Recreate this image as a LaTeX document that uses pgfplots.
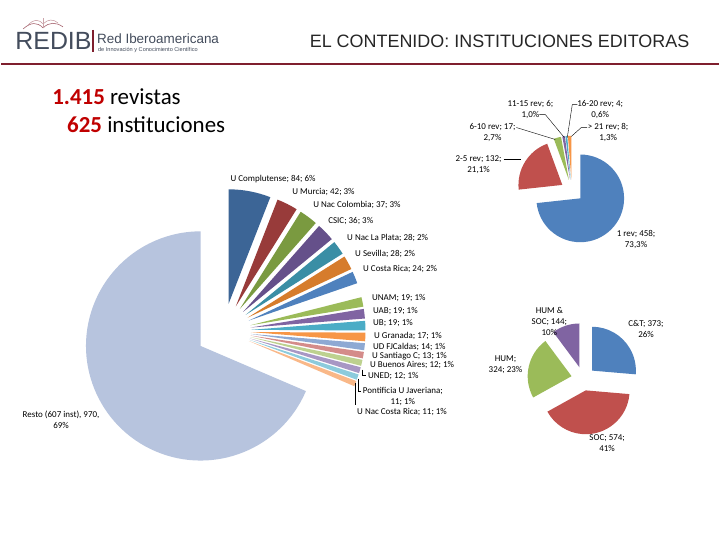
\documentclass[border=0pt]{standalone}
\usepackage{pgfplots}
\pgfplotsset{compat=1.18}
\usepackage{fontspec}
\setmainfont{Carlito}
\newfontfamily\arial{Liberation Sans}
\usetikzlibrary{calc}

\definecolor{aBlue}{HTML}{4F81BD}
\definecolor{aRed}{HTML}{C0504D}
\definecolor{aGreen}{HTML}{9BBB59}
\definecolor{aPurple}{HTML}{8064A2}
\definecolor{aAqua}{HTML}{4BACC6}
\definecolor{aOrange}{HTML}{F79646}
\definecolor{dBlue}{HTML}{3C6596}
\definecolor{dRed}{HTML}{983B3A}
\definecolor{dGreen}{HTML}{7A9A40}
\definecolor{dPurple}{HTML}{65508A}
\definecolor{dAqua}{HTML}{3A8EA5}
\definecolor{dOrange}{HTML}{D67C2C}
\definecolor{lBlue}{HTML}{8EA9D3}
\definecolor{lRed}{HTML}{D48C8A}
\definecolor{lGreen}{HTML}{BDD18F}
\definecolor{lPurple}{HTML}{A897C4}
\definecolor{lAqua}{HTML}{8CCBDC}
\definecolor{lOrange}{HTML}{F9B888}
\definecolor{resto}{HTML}{B7C4DE}
\definecolor{maroon}{HTML}{7F1F2E}
\definecolor{logo}{HTML}{434C5C}
\definecolor{numred}{HTML}{C00000}

% pie: #1 cx, #2 cy, #3 radius, #4 explode, #5 total ; slices in \pielist (value/colour)
\newcommand\piechart[5]{%
  \xdef\cum{0}%
  \foreach \v/\c in \pielist {%
    \pgfmathsetmacro\aone{90-\cum/#5*360}%
    \pgfmathsetmacro\atwo{90-(\cum+\v)/#5*360}%
    \pgfmathsetmacro\amid{(\aone+\atwo)/2}%
    \pgfmathsetmacro\px{#1+#4*cos(\amid)}%
    \pgfmathsetmacro\py{#2-#4*sin(\amid)}%
    \edef\temp{\noexpand\path[fill=\c] (axis cs:\px,\py) -- ++(\aone:#3pt) arc[start angle=\aone, end angle=\atwo, radius=#3pt] -- cycle;}%
    \temp
    \pgfmathsetmacro\newcum{\cum+\v}\xdef\cum{\newcum}%
  }%
}

\begin{document}
\begin{tikzpicture}
\begin{axis}[scale only axis, width=720pt, height=540pt,
  xmin=0, xmax=720, ymin=0, ymax=540, y dir=reverse, hide axis, clip=false]
\fill[white] (axis cs:0,0) rectangle (axis cs:720,540);

% ---- header ----
\draw[maroon, line width=2.5pt] (axis cs:0,64) -- (axis cs:720,64);
\node[anchor=west, inner sep=0, text=logo, font=\arial\fontsize{25}{25}\selectfont] at (axis cs:14,41) {REDIB};
\draw[maroon, line width=1.2pt] (axis cs:92,30) -- (axis cs:92,52);
\node[anchor=west, inner sep=0, text=logo, font=\arial\fontsize{13.5}{14}\selectfont] at (axis cs:96,39) {Red Iberoamericana};
\node[anchor=west, inner sep=0, text=logo, font=\arial\fontsize{5.6}{6}\selectfont] at (axis cs:97,50) {de Innovación y Conocimiento Científico};
\draw[maroon!70, line width=0.6pt] (axis cs:22,29) .. controls (axis cs:30,22) and (axis cs:36,22) .. (axis cs:42,28);
\draw[maroon!70, line width=0.6pt] (axis cs:42,28) .. controls (axis cs:48,22) and (axis cs:55,22) .. (axis cs:62,27);
\draw[maroon!50, line width=0.5pt] (axis cs:27,25) .. controls (axis cs:33,19) and (axis cs:37,19) .. (axis cs:42,24);
\draw[maroon!50, line width=0.5pt] (axis cs:42,24) .. controls (axis cs:47,19) and (axis cs:52,19) .. (axis cs:57,23);
\draw[maroon!40, line width=0.5pt] (axis cs:42,28) -- (axis cs:42,18);
\node[anchor=center, inner sep=0, text=black!85, font=\arial\fontsize{18}{18}\selectfont] at (axis cs:500,41) {EL CONTENIDO: INSTITUCIONES EDITORAS};

\node[anchor=west, inner sep=0, font=\fontsize{23}{24}\selectfont] at (axis cs:51,97) {\textcolor{numred}{\textbf{1.415}} revistas};
\node[anchor=west, inner sep=0, font=\fontsize{23}{24}\selectfont] at (axis cs:66,125) {\textcolor{numred}{\textbf{625}} instituciones};

% ---- pie 1: revistas por institucion ----
\def\pielist{458/aBlue,132/aRed,17/aGreen,6/aPurple,4/aAqua,8/aOrange}
\piechart{572.6}{191.5}{44}{11.3}{625}

% ---- pie 3: areas ----
\def\pielist{373/aBlue,574/aRed,324/aGreen,144/aPurple}
\piechart{584}{380}{44}{12}{1415}

% ---- big pie: instituciones ----
\def\pielist{84/dBlue,42/dRed,37/dGreen,36/dPurple,28/dAqua,28/dOrange,24/aBlue,19/none,19/aGreen,19/aPurple,19/aAqua,17/aOrange,14/lBlue,13/lRed,12/lGreen,12/lPurple,11/lAqua,11/lOrange,970/resto}
\piechart{223}{332}{115}{27.5}{1415}

% ---- labels pie 1 ----
\tikzset{lab/.style={inner sep=0, align=center, font=\fontsize{9}{11}\selectfont}}
\node[lab] at (axis cs:531,110) {11-15 rev; 6;\\1,0\%};
\node[lab] at (axis cs:601,110) {16-20 rev; 4;\\0,6\%};
\node[lab] at (axis cs:493,133) {6-10 rev; 17;\\2,7\%};
\node[lab] at (axis cs:609,133) {> 21 rev; 8;\\1,3\%};
\node[lab] at (axis cs:479,165) {2-5 rev; 132;\\21,1\%};
\node[lab] at (axis cs:637,240) {1 rev; 458;\\73,3\%};
\draw[black, line width=0.4pt] (axis cs:517,128) -- (axis cs:556,140);
\draw[black, line width=0.4pt] (axis cs:540,115) -- (axis cs:546,115) -- (axis cs:565,138);
\draw[black, line width=0.4pt] (axis cs:578,105) -- (axis cs:573,105) -- (axis cs:568,138);
\draw[black, line width=0.4pt] (axis cs:588,128) -- (axis cs:582,128) -- (axis cs:572,137);
\draw[black, line width=0.4pt] (axis cs:504,160) -- (axis cs:522,160);

% ---- labels pie 3 ----
\node[lab] at (axis cs:647,330) {C\&T; 373;\\26\%};
\node[lab] at (axis cs:608,445) {SOC; 574;\\41\%};
\node[lab] at (axis cs:506,366) {HUM;\\324; 23\%};
\node[lab] at (axis cs:550,323) {HUM \&\\SOC; 144;\\10\%};

% ---- labels big pie ----
\tikzset{labw/.style={inner sep=0, anchor=west, font=\fontsize{9}{11}\selectfont}}
\node[labw] at (axis cs:230,180) {U Complutense; 84; 6\%};
\node[labw] at (axis cs:292,193) {U Murcia; 42; 3\%};
\node[labw] at (axis cs:313,206) {U Nac Colombia; 37; 3\%};
\node[labw] at (axis cs:328,222) {CSIC; 36; 3\%};
\node[labw] at (axis cs:347,239) {U Nac La Plata; 28; 2\%};
\node[labw] at (axis cs:355,255) {U Sevilla; 28; 2\%};
\node[labw] at (axis cs:363,270) {U Costa Rica; 24; 2\%};
\node[labw] at (axis cs:372,299) {UNAM; 19; 1\%};
\node[labw] at (axis cs:373,312) {UAB; 19; 1\%};
\node[labw] at (axis cs:373,324) {UB; 19; 1\%};
\node[labw] at (axis cs:374,337) {U Granada; 17; 1\%};
\node[labw] at (axis cs:373,348) {UD FJCaldas; 14; 1\%};
\node[labw] at (axis cs:372,357) {U Santiago C; 13; 1\%};
\node[labw] at (axis cs:370,366) {U Buenos Aires; 12; 1\%};
\node[labw] at (axis cs:368,377) {UNED; 12; 1\%};
\node[lab] at (axis cs:403,398) {Pontificia U Javeriana;\\11; 1\%};
\node[labw] at (axis cs:357,413) {U Nac Costa Rica; 11; 1\%};
\node[lab] at (axis cs:60,421) {Resto (607 inst), 970,\\69\%};
\draw[black, line width=0.4pt] (axis cs:362,371) -- (axis cs:362,377) -- (axis cs:366,377);
\draw[black, line width=0.4pt] (axis cs:358,380) -- (axis cs:358,393) -- (axis cs:361,393);
\draw[black, line width=0.4pt] (axis cs:355,384) -- (axis cs:355,406);
\end{axis}
\end{tikzpicture}
\end{document}
